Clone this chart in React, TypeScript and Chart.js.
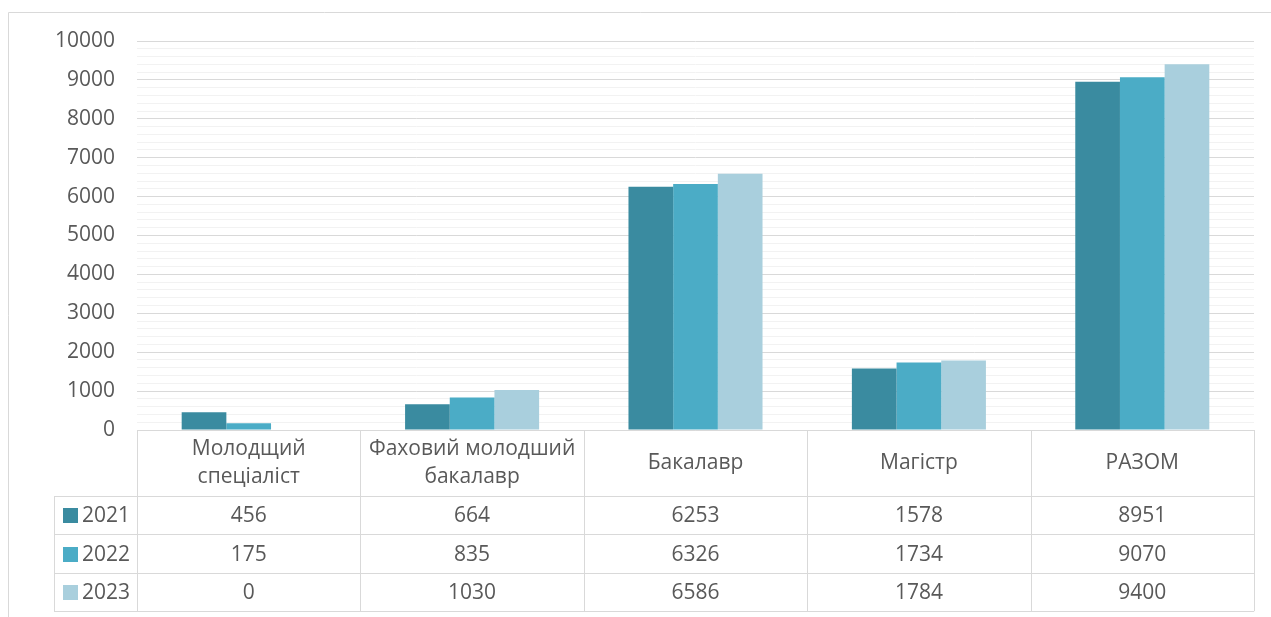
import React, { useEffect, useRef } from 'react';
import { Chart, registerables } from 'chart.js';

Chart.register(...registerables);

const categories: string[][] = [
  ['Молодщий', 'спеціаліст'],
  ['Фаховий молодший', 'бакалавр'],
  ['Бакалавр'],
  ['Магістр'],
  ['РАЗОМ'],
];
const seriesNames = ['2021', '2022', '2023'];
const values2021 = [456, 664, 6253, 1578, 8951];
const values2022 = [175, 835, 6326, 1734, 9070];
const values2023 = [0, 1030, 6586, 1784, 9400];
const seriesColors = ['#3A8BA0', '#4BACC6', '#A9CFDD'];
const yMin = 0;
const yMax = 10000;
const majorStep = 1000;
const minorStep = 200;

const FONT_FAMILY = '"Open Sans", "DejaVu Sans", sans-serif';
const FONT_SIZE = 21;
const TEXT_COLOR = '#595959';
const LINE_COLOR = '#d9d9d9';

const tablePlugin = {
  id: 'dataTable',
  afterDraw(chart: any) {
    const ctx = chart.ctx as CanvasRenderingContext2D;
    const area = chart.chartArea;
    const n = chart.data.labels.length;
    const colW = (area.right - area.left) / n;
    const headerTop = area.bottom;
    const headerH = 66;
    const rowH = 38.4;
    const legendLeft = 54;
    const headerBottom = headerTop + headerH;
    const nRows = chart.data.datasets.length;
    const tableBottom = headerBottom + rowH * nRows;

    ctx.save();
    // outer frame
    ctx.strokeStyle = LINE_COLOR;
    ctx.lineWidth = 1;
    ctx.beginPath();
    ctx.moveTo(8.5, chart.height + 5);
    ctx.lineTo(8.5, 12.5);
    ctx.lineTo(chart.width + 5, 12.5);
    ctx.stroke();

    // table lines
    ctx.beginPath();
    const px = (v: number) => Math.round(v) + 0.5;
    ctx.moveTo(area.left, px(headerTop));
    ctx.lineTo(area.right, px(headerTop));
    for (let r = 0; r <= nRows; r++) {
      const y = px(headerBottom + rowH * r);
      ctx.moveTo(legendLeft, y);
      ctx.lineTo(area.right, y);
    }
    for (let i = 0; i <= n; i++) {
      const x = px(area.left + colW * i);
      ctx.moveTo(x, headerTop);
      ctx.lineTo(x, tableBottom);
    }
    ctx.moveTo(px(legendLeft), headerBottom);
    ctx.lineTo(px(legendLeft), tableBottom);
    ctx.stroke();

    ctx.fillStyle = TEXT_COLOR;
    ctx.font = `${FONT_SIZE}px ${FONT_FAMILY}`;
    ctx.textAlign = 'center';
    ctx.textBaseline = 'middle';
    chart.data.labels.forEach((lab: string[] | string, i: number) => {
      const lines = Array.isArray(lab) ? lab : [lab];
      const cx = area.left + colW * (i + 0.5);
      if (lines.length === 1) {
        ctx.fillText(lines[0], cx, headerTop + 33);
      } else {
        lines.forEach((ln, k) => ctx.fillText(ln, cx, headerTop + 19 + k * 28));
      }
    });
    chart.data.datasets.forEach((ds: any, r: number) => {
      const cy = headerBottom + rowH * (r + 0.5);
      ds.data.forEach((v: number, i: number) => {
        const cx = area.left + colW * (i + 0.5);
        ctx.textAlign = 'center';
        ctx.fillText(String(v), cx, cy + 1);
      });
      ctx.fillStyle = ds.backgroundColor;
      ctx.fillRect(63, Math.round(cy - 7), 15, 15);
      ctx.fillStyle = TEXT_COLOR;
      ctx.textAlign = 'left';
      ctx.fillText(ds.label, 82, cy + 1);
    });
    ctx.restore();
  },
};

export default function App() {
  const ref = useRef<HTMLCanvasElement | null>(null);

  useEffect(() => {
    document.body.style.margin = '0';
    if (!ref.current) return;
    const seriesValues = [values2021, values2022, values2023];
    const chart = new Chart(ref.current, {
      type: 'bar',
      data: {
        labels: categories as any,
        datasets: seriesNames.map((name, i) => ({
          label: name,
          data: seriesValues[i],
          backgroundColor: seriesColors[i],
          borderWidth: 0,
          categoryPercentage: 0.6,
          barPercentage: 1,
        })),
      },
      options: {
        responsive: false,
        animation: false,
        devicePixelRatio: 1,
        layout: { padding: { left: 0, right: 17, top: 41, bottom: 187 } },
        plugins: {
          legend: { display: false },
          tooltip: { enabled: false },
        },
        scales: {
          x: {
            display: false,
          },
          y: {
            min: yMin,
            max: yMax,
            border: { display: false },
            grid: {
              drawTicks: false,
              lineWidth: 1,
              color: (c: any) =>
                c.tick && c.tick.value % majorStep === 0 ? '#d9d9d9' : '#f2f2f2',
            },
            ticks: {
              stepSize: minorStep,
              autoSkip: false,
              padding: 22,
              color: TEXT_COLOR,
              font: { family: FONT_FAMILY, size: FONT_SIZE },
              callback: (v: any) => (Number(v) % majorStep === 0 ? String(v) : ''),
            },
            afterFit: (s: any) => {
              s.width = 137;
            },
          },
        },
      },
      plugins: [tablePlugin],
    });
    return () => chart.destroy();
  }, []);

  return (
    <div style={{ width: 1271, height: 617, background: '#fff' }}>
      <canvas ref={ref} width={1271} height={617} style={{ display: 'block' }} />
    </div>
  );
}
